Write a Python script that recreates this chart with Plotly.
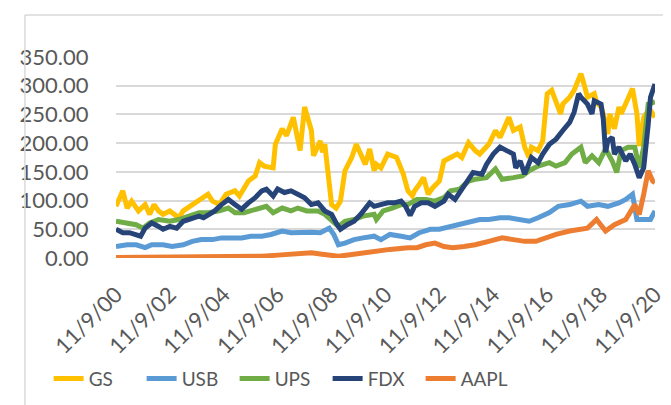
import plotly.graph_objects as go

# monthly closes (YYYY-MM), one list pair per ticker
gs_dates = ["2000-11", "2001-02", "2001-04", "2001-06", "2001-09", "2001-12", "2002-02", "2002-04", "2002-06", "2002-08",
            "2002-11", "2003-01", "2003-03", "2003-05", "2003-09", "2003-12", "2004-04", "2004-06", "2004-09", "2004-12",
            "2005-04", "2005-06", "2005-10", "2006-01", "2006-03", "2006-05", "2006-09", "2006-10", "2007-01", "2007-03",
            "2007-06", "2007-09", "2007-11", "2008-02", "2008-03", "2008-06", "2008-07", "2008-08", "2008-11", "2009-01",
            "2009-03", "2009-05", "2009-08", "2009-10", "2009-12", "2010-02", "2010-04", "2010-06", "2010-07", "2010-09",
            "2010-12", "2011-04", "2011-07", "2011-09", "2011-11", "2011-12", "2012-02", "2012-04", "2012-06", "2012-08",
            "2012-11", "2013-01", "2013-04", "2013-07", "2013-09", "2013-12", "2014-03", "2014-05", "2014-09", "2014-12",
            "2015-02", "2015-05", "2015-06", "2015-08", "2015-11", "2016-01", "2016-03", "2016-04", "2016-07", "2016-09",
            "2016-11", "2017-01", "2017-03", "2017-05", "2017-06", "2017-09", "2017-11", "2017-12", "2018-02", "2018-03",
            "2018-05", "2018-08", "2018-09", "2018-11", "2018-12", "2019-02", "2019-03", "2019-05", "2019-07", "2019-08",
            "2019-10", "2020-01", "2020-03", "2020-04", "2020-06", "2020-07", "2020-09", "2020-11"]
gs_vals = [90, 117, 87, 99, 82, 93, 76, 93, 82, 76,
           82, 76, 70, 82, 93, 99, 111, 99, 93, 111,
           117, 108, 134, 143, 166, 160, 157, 198, 225, 213,
           245, 187, 263, 222, 178, 204, 184, 198, 93, 87,
           99, 152, 175, 198, 181, 163, 190, 152, 163, 157,
           181, 175, 146, 117, 108, 117, 128, 140, 111, 122,
           134, 169, 175, 181, 175, 201, 187, 181, 198, 222,
           210, 233, 245, 222, 228, 193, 175, 193, 187, 204,
           286, 292, 274, 251, 268, 280, 292, 303, 321, 309,
           280, 286, 271, 263, 251, 216, 251, 225, 263, 251,
           268, 295, 251, 195, 245, 251, 257, 245]

usb_dates = ["2000-11", "2001-04", "2001-08", "2001-12", "2002-03", "2002-08", "2002-12", "2003-05", "2003-09", "2004-01",
             "2004-06", "2004-10", "2005-03", "2005-07", "2005-11", "2006-04", "2006-08", "2007-01", "2007-05", "2007-09",
             "2008-02", "2008-06", "2008-10", "2008-12", "2009-02", "2009-05", "2009-09", "2010-01", "2010-06", "2010-09",
             "2011-01", "2011-06", "2011-10", "2012-02", "2012-07", "2012-11", "2013-04", "2013-08", "2013-12", "2014-05",
             "2014-09", "2015-02", "2015-06", "2015-11", "2016-03", "2016-07", "2016-12", "2017-04", "2017-09", "2018-02",
             "2018-05", "2018-10", "2019-02", "2019-07", "2019-10", "2020-01", "2020-03", "2020-06", "2020-09", "2020-11"]
usb_vals = [20, 23, 23, 18, 23, 23, 20, 23, 29, 32,
            32, 35, 35, 35, 38, 38, 41, 47, 44, 45,
            45, 44, 52, 41, 23, 26, 32, 35, 38, 32,
            41, 38, 35, 44, 50, 50, 55, 58, 64, 67,
            67, 70, 70, 67, 64, 70, 79, 90, 93, 99,
            90, 93, 90, 96, 102, 111, 67, 67, 67, 82]

ups_dates = ["2000-11", "2001-04", "2001-08", "2001-11", "2002-02", "2002-06", "2002-11", "2003-03", "2003-07", "2003-12",
             "2004-04", "2004-09", "2005-01", "2005-04", "2005-08", "2005-11", "2006-02", "2006-06", "2006-09", "2007-01",
             "2007-05", "2007-08", "2007-12", "2008-05", "2008-08", "2008-11", "2009-02", "2009-05", "2009-09", "2010-01",
             "2010-06", "2010-07", "2010-10", "2011-02", "2011-06", "2011-09", "2012-01", "2012-05", "2012-09", "2013-01",
             "2013-04", "2013-08", "2013-12", "2014-03", "2014-08", "2014-12", "2015-03", "2015-08", "2015-12", "2016-03",
             "2016-07", "2016-12", "2017-03", "2017-07", "2017-10", "2018-02", "2018-04", "2018-07", "2018-10", "2019-01",
             "2019-04", "2019-06", "2019-08", "2019-11", "2020-02", "2020-04", "2020-06", "2020-08", "2020-11"]
ups_vals = [64, 61, 58, 52, 61, 67, 64, 67, 73, 79,
            79, 82, 87, 79, 79, 82, 87, 90, 79, 87,
            82, 87, 82, 82, 76, 64, 55, 64, 67, 73,
            76, 67, 82, 87, 93, 93, 102, 102, 99, 105,
            117, 120, 134, 137, 140, 155, 137, 140, 143, 152,
            160, 166, 160, 166, 181, 193, 166, 178, 166, 190,
            169, 149, 187, 193, 193, 157, 193, 268, 272]

fdx_dates = ["2000-11", "2001-02", "2001-05", "2001-08", "2001-10", "2001-12", "2002-03", "2002-06", "2002-08", "2002-11",
             "2003-02", "2003-05", "2003-09", "2003-12", "2004-02", "2004-05", "2004-07", "2004-10", "2005-01", "2005-04",
             "2005-07", "2005-10", "2006-01", "2006-04", "2006-06", "2006-09", "2006-11", "2007-02", "2007-05", "2007-08",
             "2007-11", "2008-02", "2008-05", "2008-08", "2008-11", "2009-01", "2009-03", "2009-06", "2009-09", "2009-12",
             "2010-04", "2010-06", "2010-09", "2010-12", "2011-03", "2011-06", "2011-08", "2011-10", "2011-12", "2012-03",
             "2012-06", "2012-09", "2013-01", "2013-03", "2013-06", "2013-09", "2013-12", "2014-02", "2014-06", "2014-08",
             "2014-11", "2015-02", "2015-05", "2015-08", "2015-09", "2015-11", "2016-01", "2016-04", "2016-07", "2016-09",
             "2016-12", "2017-03", "2017-06", "2017-09", "2017-11", "2018-01", "2018-02", "2018-05", "2018-07", "2018-08",
             "2018-11", "2018-12", "2019-01", "2019-02", "2019-04", "2019-05", "2019-07", "2019-10", "2019-12", "2020-02",
             "2020-04", "2020-06", "2020-08", "2020-09", "2020-11"]
fdx_vals = [50, 44, 44, 41, 38, 52, 61, 55, 50, 55,
            52, 64, 70, 73, 70, 76, 82, 93, 102, 93,
            85, 96, 105, 117, 120, 108, 120, 114, 117, 111,
            105, 93, 96, 82, 76, 61, 50, 58, 64, 76,
            96, 90, 93, 96, 96, 99, 90, 74, 90, 96,
            96, 90, 99, 111, 102, 120, 140, 149, 146, 163,
            181, 193, 187, 181, 157, 169, 146, 175, 166, 181,
            198, 207, 222, 236, 254, 286, 280, 268, 251, 274,
            268, 242, 184, 204, 210, 181, 193, 169, 181, 163,
            140, 157, 233, 280, 303]

aapl_dates = ["2000-11", "2002-02", "2003-05", "2004-08", "2005-06", "2006-04", "2006-11", "2007-06", "2008-02", "2008-06",
              "2009-02", "2009-08", "2010-04", "2011-01", "2011-09", "2012-01", "2012-05", "2012-09", "2013-01", "2013-05",
              "2013-10", "2014-03", "2014-09", "2015-03", "2015-08", "2016-01", "2016-06", "2016-10", "2017-03", "2017-09",
              "2018-02", "2018-05", "2018-09", "2019-01", "2019-05", "2019-10", "2020-02", "2020-04", "2020-06", "2020-08",
              "2020-10", "2020-11"]
aapl_vals = [1, 1, 1, 1, 1.5, 3, 5, 6, 9, 7,
             3, 6, 11, 15, 18, 18, 23, 26, 20, 18,
             20, 23, 29, 35, 32, 29, 29, 35, 41, 47,
             50, 52, 67, 47, 58, 67, 93, 76, 111, 152,
             134, 131]

tick_dates = ["2000-11", "2002-11", "2004-11", "2006-11", "2008-11", "2010-11",
              "2012-11", "2014-11", "2016-11", "2018-11", "2020-11"]
tick_labels = ["11/9/00", "11/9/02", "11/9/04", "11/9/06", "11/9/08", "11/9/10",
               "11/9/12", "11/9/14", "11/9/16", "11/9/18", "11/9/20"]

series = [
    ("GS", gs_dates, gs_vals, "#FFC000"),
    ("USB", usb_dates, usb_vals, "#5B9BD5"),
    ("UPS", ups_dates, ups_vals, "#70AD47"),
    ("FDX", fdx_dates, fdx_vals, "#264478"),
    ("AAPL", aapl_dates, aapl_vals, "#ED7D31"),
]

font_family = "Lato"
grey = "#595959"

fig = go.Figure()
for name, dates, vals, color in series:
    fig.add_trace(go.Scatter(x=dates, y=vals, name=name, mode="lines",
                             line=dict(color=color, width=5)))

fig.update_layout(
    width=671, height=405,
    margin=dict(l=103, r=24, t=49, b=155),
    paper_bgcolor="white", plot_bgcolor="white",
    font=dict(family=font_family, color=grey, size=21),
    showlegend=True,
    legend=dict(orientation="h", x=-0.125, xanchor="left", y=-0.60, yanchor="middle",
                font=dict(size=19, color=grey), traceorder="normal",
                entrywidth=48, itemwidth=30),
)
fig.update_xaxes(type="date", range=["2000-11", "2020-11"],
                 tickmode="array", tickvals=tick_dates, ticktext=tick_labels,
                 tickangle=-45, tickfont=dict(size=22, color=grey),
                 showgrid=False, showline=False, zeroline=False,
                 ticks="outside", ticklen=14, tickcolor="rgba(0,0,0,0)")
fig.update_yaxes(range=[0, 350], dtick=50, tickformat=".2f",
                 tickfont=dict(size=22, color=grey),
                 showgrid=True, gridcolor="#D9D9D9", gridwidth=1.5,
                 zeroline=False, showline=False,
                 ticks="outside", ticklen=22, tickcolor="rgba(0,0,0,0)")

# chart-area border (cropped at right and bottom)
fig.add_shape(type="line", xref="paper", yref="paper", x0=-0.169, x1=-0.169, y0=-0.9, y1=1.209,
              line=dict(color="#D9D9D9", width=1.5))
fig.add_shape(type="line", xref="paper", yref="paper", x0=-0.169, x1=1.1, y0=1.209, y1=1.209,
              line=dict(color="#D9D9D9", width=1.5))

fig.write_html("out.html")
